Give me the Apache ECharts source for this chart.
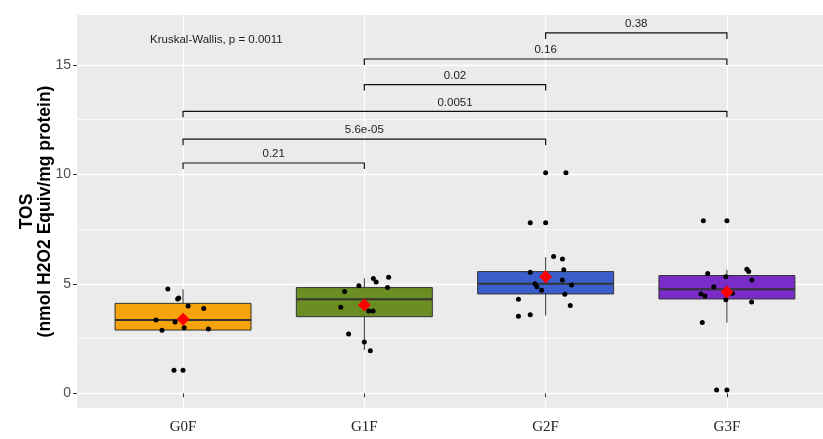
<!DOCTYPE html>
<html><head><meta charset="utf-8">
<script src="https://cdn.jsdelivr.net/npm/echarts@6/dist/echarts.min.js"></script>
<style>html,body{margin:0;padding:0;background:#fff}#c{width:823px;height:439px}</style>
</head><body><div id="c"></div>
<script>
const categories = ['G0F', 'G1F', 'G2F', 'G3F'];
const boxColors = ['#F4A30B', '#6B8E23', '#3A5FCD', '#7B2BC8'];
// [lower whisker, Q1, median, Q3, upper whisker]
const boxStats = [
  [2.88, 2.89, 3.35, 4.11, 4.75],
  [1.98, 3.50, 4.30, 4.83, 5.26],
  [3.55, 4.54, 5.00, 5.56, 6.22],
  [3.23, 4.31, 4.75, 5.38, 5.64]
];
const means = [3.38, 4.04, 5.33, 4.63];

const g0fValues = [4.77, 4.31, 4.35, 3.99, 3.87, 3.35, 3.26, 2.99, 2.88, 2.94, 1.05, 1.05];
const g0fJitter = [-0.084, -0.03, -0.024, 0.028, 0.114, -0.149, -0.044, 0.006, -0.116, 0.14, -0.05, 0.0];
const g1fValues = [5.25, 5.08, 5.30, 4.91, 4.83, 4.65, 3.93, 3.76, 3.76, 2.71, 2.35, 1.95];
const g1fJitter = [0.05, 0.065, 0.134, -0.03, 0.128, -0.109, -0.13, 0.024, 0.048, -0.087, 0.0, 0.033];
const g2fValues = [10.07, 10.07, 7.79, 7.79, 6.25, 6.13, 5.65, 5.53, 5.18, 4.95, 5.01, 4.87, 4.71, 4.53, 4.30, 4.01, 3.59, 3.52];
const g2fJitter = [0.0, 0.112, -0.085, 0.0, 0.044, 0.093, 0.10, -0.085, 0.092, 0.143, -0.059, -0.048, -0.022, 0.106, -0.15, 0.136, -0.085, -0.15];
const g3fValues = [7.88, 7.88, 5.67, 5.56, 5.47, 5.33, 5.18, 4.87, 4.54, 4.45, 4.57, 4.27, 4.17, 3.23, 0.15, 0.15];
const g3fJitter = [-0.13, 0.0, 0.11, 0.12, -0.106, -0.006, 0.138, -0.072, -0.143, -0.121, 0.03, -0.006, 0.136, -0.136, -0.057, 0.0];

const yTicks = [0, 5, 10, 15];
const yMinorTicks = [2.5, 7.5, 12.5];
// [group1, group2, bracket height, p label]
const comparisons = [
  ['G0F', 'G1F', 10.52, '0.21'],
  ['G0F', 'G2F', 11.61, '5.6e-05'],
  ['G0F', 'G3F', 12.88, '0.0051'],
  ['G1F', 'G2F', 14.10, '0.02'],
  ['G1F', 'G3F', 15.27, '0.16'],
  ['G2F', 'G3F', 16.46, '0.38']
];
const kruskalText = 'Kruskal-Wallis, p = 0.0011';
const kruskalPos = [0.818, 16.14];

const groupValues = [g0fValues, g1fValues, g2fValues, g3fValues];
const groupJitter = [g0fJitter, g1fJitter, g2fJitter, g3fJitter];
const pointData = [];
groupValues.forEach((vals, i) => vals.forEach((v, k) => pointData.push([i + 1 + groupJitter[i][k], v])));

const Y_MIN = -0.67, Y_MAX = 17.28;
const chart = echarts.init(document.getElementById('c'), null, {renderer: 'canvas'});
const textFont = 'Liberation Sans, Arial, sans-serif';

chart.setOption({
  animation: false,
  backgroundColor: '#ffffff',
  grid: {left: 77, right: 0, top: 15, bottom: 31, show: true, backgroundColor: '#EBEBEB', borderWidth: 0},
  xAxis: {
    type: 'value', min: 0.415, max: 4.53,
    axisLine: {show: false},
    axisTick: {show: true, length: 4, customValues: [1, 2, 3, 4], lineStyle: {color: '#333', width: 1}},
    axisLabel: {customValues: [1, 2, 3, 4], formatter: v => categories[Math.round(v) - 1],
      fontFamily: 'Liberation Serif, Times New Roman, serif', fontSize: 15, color: '#222', margin: 12},
    splitLine: {show: true, lineStyle: {color: '#ffffff', width: 1.3}}
  },
  yAxis: [{
    type: 'value', min: Y_MIN, max: Y_MAX,
    axisLine: {show: false},
    axisTick: {show: true, length: 4, customValues: yTicks, lineStyle: {color: '#333', width: 1}},
    axisLabel: {customValues: yTicks, fontFamily: textFont, fontSize: 14, color: '#4D4D4D', margin: 6},
    splitLine: {show: true, lineStyle: {color: '#ffffff', width: 1.3}},
    name: 'TOS\n(nmol H2O2 Equiv/mg protein)', nameLocation: 'middle', nameRotate: 90, nameGap: 23,
    nameMoveOverlap: false,
    nameTextStyle: {fontFamily: textFont, fontSize: 17.5, fontWeight: 'bold', color: '#000', lineHeight: 18}
  }, {
    type: 'value', min: Y_MIN, max: Y_MAX, position: 'left',
    axisLine: {show: false}, axisLabel: {show: false},
    axisTick: {show: false, customValues: yMinorTicks},
    splitLine: {show: true, lineStyle: {color: '#ffffff', width: 0.8}}
  }],
  series: [{
    type: 'custom', z: 2,
    data: categories.map((c, i) => [i + 1].concat(boxStats[i])),
    encode: {x: 0, y: [1, 2, 3, 4, 5]},
    renderItem(params, api) {
      const i = params.dataIndex, x = api.value(0);
      const lw = api.value(1), q1 = api.value(2), med = api.value(3), q3 = api.value(4), uw = api.value(5);
      const half = 0.375;
      const tl = api.coord([x - half, q3]), br = api.coord([x + half, q1]);
      const m1 = api.coord([x - half, med]), m2 = api.coord([x + half, med]);
      const pu = api.coord([x, uw]), p3 = api.coord([x, q3]), p1 = api.coord([x, q1]), pl = api.coord([x, lw]);
      const ws = {stroke: '#333', lineWidth: 1};
      return {type: 'group', children: [
        {type: 'line', shape: {x1: pu[0], y1: pu[1], x2: p3[0], y2: p3[1]}, style: ws},
        {type: 'line', shape: {x1: p1[0], y1: p1[1], x2: pl[0], y2: pl[1]}, style: ws},
        {type: 'rect', shape: {x: tl[0], y: tl[1], width: br[0] - tl[0], height: br[1] - tl[1]},
          style: {fill: boxColors[i], stroke: '#333', lineWidth: 1}},
        {type: 'line', shape: {x1: m1[0], y1: m1[1], x2: m2[0], y2: m2[1]}, style: {stroke: '#333', lineWidth: 2}}
      ]};
    }
  }, {
    type: 'scatter', z: 3, data: pointData, symbol: 'circle', symbolSize: 5,
    itemStyle: {color: '#000', opacity: 1}, silent: true
  }, {
    type: 'scatter', z: 4, data: means.map((m, i) => [i + 1, m]), symbol: 'diamond', symbolSize: 13,
    itemStyle: {color: '#FF0000', opacity: 1}, silent: true
  }, {
    type: 'custom', z: 5,
    data: comparisons.map(c => [categories.indexOf(c[0]) + 1, categories.indexOf(c[1]) + 1, c[2]]),
    encode: {x: [0, 1], y: 2},
    renderItem(params, api) {
      const a = api.coord([api.value(0), api.value(2)]);
      const b = api.coord([api.value(1), api.value(2)]);
      const tip = 6;
      return {type: 'group', children: [
        {type: 'polyline', shape: {points: [[a[0], a[1] + tip], a, b, [b[0], b[1] + tip]]},
          style: {stroke: '#111', lineWidth: 1.2, fill: null}},
        {type: 'text', x: (a[0] + b[0]) / 2, y: a[1] - 3,
          style: {text: comparisons[params.dataIndex][3], fontFamily: textFont, fontSize: 11.5, fill: '#222',
            align: 'center', verticalAlign: 'bottom'}}
      ]};
    }
  }, {
    type: 'custom', z: 5, data: [kruskalPos], encode: {x: 0, y: 1},
    renderItem(params, api) {
      const p = api.coord([api.value(0), api.value(1)]);
      return {type: 'text', x: p[0], y: p[1],
        style: {text: kruskalText, fontFamily: textFont, fontSize: 11.5, fill: '#222', align: 'left', verticalAlign: 'middle'}};
    }
  }]
});
</script></body></html>
